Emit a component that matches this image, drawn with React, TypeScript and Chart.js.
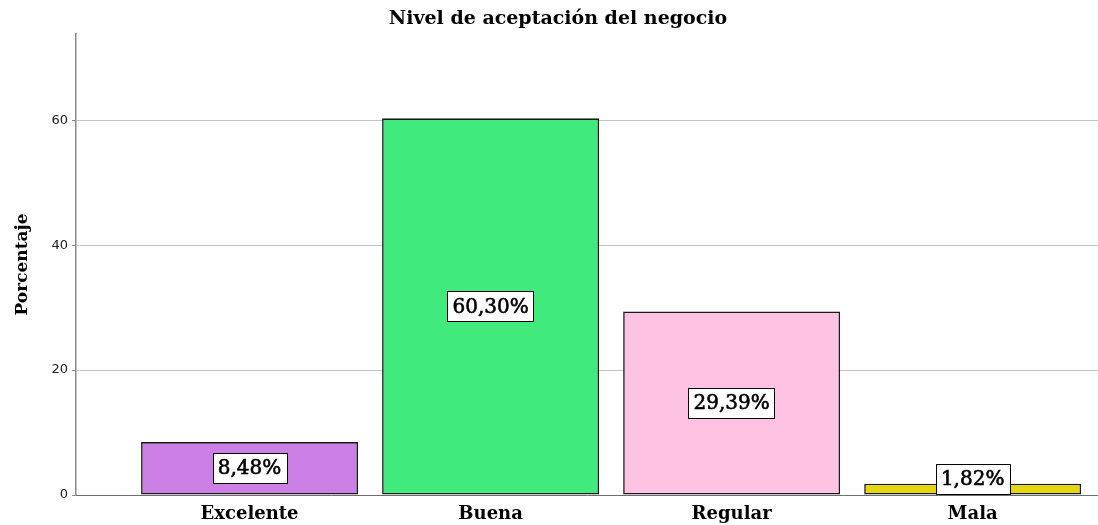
import React, { useEffect, useRef } from "react";
import { Chart, registerables } from "chart.js";

Chart.register(...registerables);

const categories = ["Excelente", "Buena", "Regular", "Mala"];
const percentages = [8.48, 60.3, 29.39, 1.82];
const valueLabels = ["8,48%", "60,30%", "29,39%", "1,82%"];
const barColors = ["#cc80e6", "#40ea7d", "#fec2e2", "#e3d60f"];
const yTicks = [0, 20, 40, 60];

const labelPlugin = {
  id: "boxLabels",
  afterDatasetsDraw(chart: any) {
    const ctx = chart.ctx;
    const meta = chart.getDatasetMeta(0);
    ctx.save();
    ctx.font = "20px 'DejaVu Serif'";
    ctx.textAlign = "center";
    ctx.textBaseline = "middle";
    meta.data.forEach((bar: any, i: number) => {
      const text = valueLabels[i];
      const w = ctx.measureText(text).width + 10;
      const h = 30;
      let cy = (bar.y + bar.base) / 2;
      if (cy + h / 2 > bar.base - 1) cy = bar.base - 1 - h / 2;
      const x0 = Math.round(bar.x - w / 2) + 0.5;
      const y0 = Math.round(cy - h / 2) + 0.5;
      ctx.fillStyle = "#ffffff";
      ctx.fillRect(x0, y0, Math.round(w), h);
      ctx.strokeStyle = "#000000";
      ctx.lineWidth = 1;
      ctx.strokeRect(x0, y0, Math.round(w), h);
      ctx.fillStyle = "#000000";
      ctx.fillText(text, bar.x, cy + 1);
      ctx.lineWidth = 0.6;
      ctx.strokeText(text, bar.x, cy + 1);
    });
    ctx.restore();
  },
};

export default function App() {
  const ref = useRef<HTMLCanvasElement>(null);
  useEffect(() => {
    if (!ref.current) return;
    const chart = new Chart(ref.current, {
      type: "bar",
      data: {
        datasets: [
          {
            label: "Porcentaje",
            data: percentages.map((v, i) => ({ x: i, y: v })),
            backgroundColor: barColors,
            borderColor: "#1a1a1a",
            borderWidth: 1.6,
            borderSkipped: false,
            categoryPercentage: 1,
            barPercentage: 0.9,
          },
        ],
      },
      options: {
        animation: false,
        responsive: false,
        layout: { padding: { left: 18, right: 0, top: 0, bottom: 0 } },
        plugins: {
          legend: { display: false },
          tooltip: { enabled: false },
          title: {
            display: true,
            text: "Nivel de aceptación del negocio",
            color: "#000",
            font: { family: "'DejaVu Serif'", size: 19, weight: "bold" },
            padding: { top: 8, bottom: 3.2 },
          },
        },
        scales: {
          x: {
            type: "linear",
            offset: false,
            min: -0.72,
            max: 3.52,
            afterBuildTicks: (scale: any) => {
              scale.ticks = categories.map((_, i) => ({ value: i }));
            },
            afterFit: (scale: any) => {
              scale.height = 30;
            },
            grid: { display: false, drawTicks: false },
            border: { display: true, color: "#6e6e6e", width: 1 },
            ticks: {
              padding: 9,
              autoSkip: false,
              maxRotation: 0,
              color: "#000",
              font: { family: "'DejaVu Serif'", size: 18, weight: "bold" },
              callback: (v: any) => categories[Math.round(v)],
            },
          },
          y: {
            min: 0,
            max: 73.8,
            afterBuildTicks: (scale: any) => {
              scale.ticks = yTicks.map((v) => ({ value: v }));
            },
            afterFit: (scale: any) => {
              scale.width = 58;
            },
            grid: {
              color: (c: any) => (c.tick && c.tick.value === 0 ? "rgba(0,0,0,0)" : "#c4c4c4"),
              tickLength: 4,
              tickColor: "#8a8a8a",
            },
            border: { display: true, color: "#8a8a8a", width: 1.5 },
            title: {
              display: true,
              text: "Porcentaje",
              color: "#000",
              font: { family: "'DejaVu Serif'", size: 17, weight: "bold" },
              padding: { top: -6, bottom: 0 },
            },
            ticks: {
              padding: 4,
              color: "#222",
              font: { family: "'DejaVu Sans'", size: 13 },
            },
          },
        },
      },
      plugins: [labelPlugin],
    });
    return () => chart.destroy();
  }, []);
  return (
    <div style={{ position: "absolute", left: 0, top: 0, width: 1098, height: 525, background: "#fff" }}>
      <canvas ref={ref} width={1098} height={525} style={{ display: "block" }} />
    </div>
  );
}
